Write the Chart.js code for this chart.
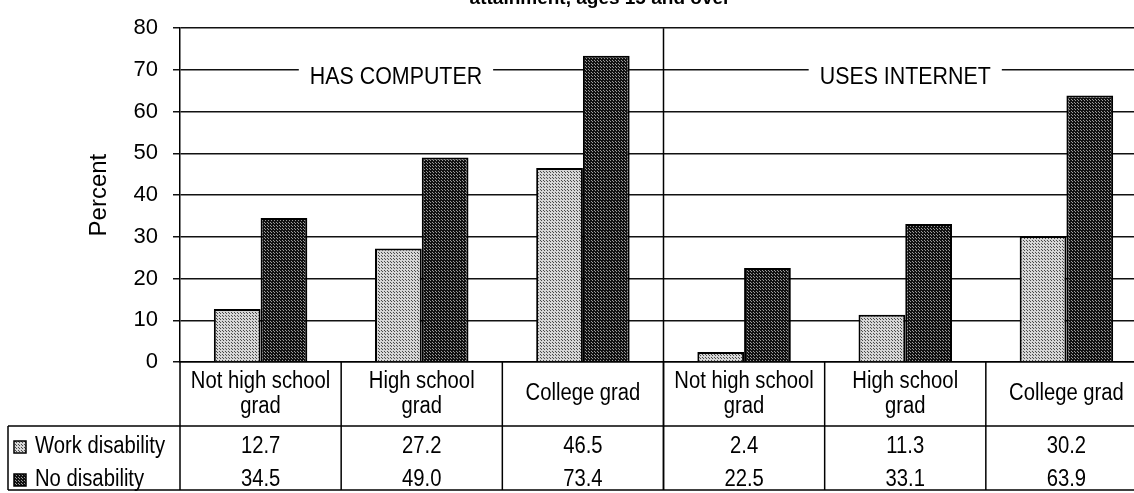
<!DOCTYPE html>
<html><head><meta charset="utf-8">
<script src="https://cdn.jsdelivr.net/npm/chart.js@4/dist/chart.umd.min.js"></script>
<style>
html,body{margin:0;padding:0;overflow:hidden;background:#fff;width:1134px;height:493px}
#wrap{position:relative;width:1147px;height:493px}
canvas{display:block}
</style></head>
<body><div id="wrap"><canvas id="c" width="1147" height="493"></canvas></div>
<script>
// ---- data ----
const categories = [["Not high school","grad"],["High school","grad"],["College grad"],["Not high school","grad"],["High school","grad"],["College grad"]];
const seriesNames = ["Work disability","No disability"];
const workDisability = [12.7, 27.2, 46.5, 2.4, 11.3, 30.2];
const noDisability = [34.5, 49.0, 73.4, 22.5, 33.1, 63.9];
const yMin = 0, yMax = 80, yStep = 10;
const sectionLabels = ["HAS COMPUTER", "USES INTERNET"];
const titleText = "attainment, ages 15 and over";
const yTitle = "Percent";

// ---- styles ----
const REG = "'Liberation Sans', Arial, Helvetica, sans-serif";

function makePattern(bg, dot, step) {
  const c = document.createElement('canvas');
  c.width = c.height = step;
  const g = c.getContext('2d');
  g.fillStyle = bg; g.fillRect(0, 0, step, step);
  g.fillStyle = dot;
  g.fillRect(0, 0, 1, 1);
  if (step >= 2) g.fillRect(Math.floor(step / 2), Math.floor(step / 2), 1, 1);
  return g.createPattern(c, 'repeat');
}
const lightPat = makePattern('#d6d6d6', '#4a4a4a', 3);
const darkPat = makePattern('#111111', '#9a9a9a', 3);
const seriesFills = [lightPat, darkPat];

// draws text horizontally condensed, to mimic the narrow face of the original
function condensedText(ctx, text, x, y, sx) {
  ctx.save();
  ctx.translate(x, y);
  ctx.scale(sx, 1);
  ctx.fillText(text, 0, 0);
  ctx.restore();
}

const tablePlugin = {
  id: 'tablePlugin',
  afterDraw(chart) {
    const ctx = chart.ctx;
    const xs = chart.scales.x, ys = chart.scales.y;
    const area = chart.chartArea;
    const n = categories.length;
    const w = (area.right - area.left) / n;
    const hdrTop = area.bottom, hdrBot = area.bottom + 64, tblBot = 490, legLeft = 8;
    ctx.save();
    // title (cropped at top)
    ctx.fillStyle = '#000';
    ctx.font = "bold 19px " + REG;
    ctx.textAlign = 'center'; ctx.textBaseline = 'alphabetic';
    ctx.fillText(titleText, 600, 4);

    // section labels on the 70 gridline
    const yLab = ys.getPixelForValue(70) + 8;
    ctx.font = "23px " + REG;
    ctx.textBaseline = 'middle';
    const labX = [xs.getPixelForValue(0.84), xs.getPixelForValue(4.0)];
    sectionLabels.forEach((t, i) => {
      const tw = ctx.measureText(t).width * 0.93;
      ctx.fillStyle = '#fff';
      ctx.fillRect(labX[i] - tw / 2 - 11, yLab - 16, tw + 22, 26);
      ctx.fillStyle = '#000';
      condensedText(ctx, t, labX[i], yLab, 0.93);
    });

    ctx.strokeStyle = '#000';
    ctx.lineWidth = 1.5;
    // separator between sections
    const sepX = (xs.getPixelForValue(2) + xs.getPixelForValue(3)) / 2;
    ctx.beginPath(); ctx.moveTo(sepX, area.top); ctx.lineTo(sepX, tblBot); ctx.stroke();
    // table verticals
    for (let i = 0; i <= n; i++) {
      const x = xs.getPixelForValue(i) - w / 2;
      ctx.beginPath(); ctx.moveTo(x, hdrTop); ctx.lineTo(x, tblBot); ctx.stroke();
    }
    // horizontals
    ctx.beginPath(); ctx.moveTo(legLeft, hdrBot); ctx.lineTo(area.right, hdrBot); ctx.stroke();
    ctx.beginPath(); ctx.moveTo(legLeft, tblBot); ctx.lineTo(area.right, tblBot); ctx.stroke();
    ctx.beginPath(); ctx.moveTo(legLeft, hdrBot); ctx.lineTo(legLeft, tblBot); ctx.stroke();

    // header labels
    ctx.fillStyle = '#000';
    ctx.font = "23px " + REG;
    ctx.textAlign = 'center'; ctx.textBaseline = 'middle';
    const hMid = (hdrTop + hdrBot) / 2;
    categories.forEach((lines, i) => {
      const x = xs.getPixelForValue(i);
      const lh = 25;
      const y0 = hMid - (lines.length - 1) * lh / 2;
      lines.forEach((l, j) => condensedText(ctx, l, x, y0 + j * lh, 0.88));
    });
    // data rows
    const rowY = [hdrBot + 21, hdrBot + 54];
    const series = [workDisability, noDisability];
    series.forEach((vals, r) => {
      vals.forEach((v, i) => condensedText(ctx, v.toFixed(1), xs.getPixelForValue(i), rowY[r], 0.88));
    });
    // legend cells
    ctx.textAlign = 'left';
    seriesNames.forEach((name, r) => {
      const sy = rowY[r] - 6;
      ctx.fillStyle = seriesFills[r];
      ctx.fillRect(14, sy, 12, 12);
      ctx.lineWidth = 1.5;
      ctx.strokeRect(14, sy, 12, 12);
      ctx.fillStyle = '#000';
      condensedText(ctx, name, 35, rowY[r], 0.88);
    });
    ctx.restore();
  }
};

new Chart(document.getElementById('c'), {
  type: 'bar',
  data: {
    labels: categories.map(c => c.join(' ')),
    datasets: [
      { label: seriesNames[0], data: workDisability, backgroundColor: lightPat, borderColor: '#000', borderWidth: 2, categoryPercentage: 0.58, barPercentage: 1.0 },
      { label: seriesNames[1], data: noDisability, backgroundColor: darkPat, borderColor: '#000', borderWidth: 2, categoryPercentage: 0.58, barPercentage: 1.0 }
    ]
  },
  options: {
    responsive: false,
    animation: false,
    layout: { padding: { left: 0, top: 28, right: 0, bottom: 0 } },
    plugins: { legend: { display: false }, tooltip: { enabled: false }, title: { display: false } },
    scales: {
      x: {
        grid: { display: false },
        border: { display: true, color: '#000', width: 1.5 },
        ticks: { display: false },
        afterFit(s) { s.height = 131; }
      },
      y: {
        min: yMin, max: yMax,
        ticks: { stepSize: yStep, color: '#000', font: { family: REG, size: 22 }, padding: 15 },
        grid: { color: '#111', lineWidth: 1.5, tickLength: 7, tickColor: '#111' },
        border: { display: true, color: '#000', width: 1.5 },
        title: { display: true, text: yTitle, color: '#000', font: { family: REG, size: 24 }, padding: { top: 85, bottom: 85 } },
        afterFit(s) { s.width = 180; }
      }
    }
  },
  plugins: [tablePlugin]
});
</script>
</body></html>
